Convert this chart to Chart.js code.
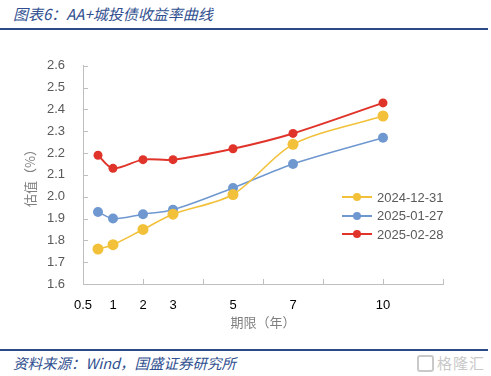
<!DOCTYPE html>
<html lang="zh-CN">
<head>
<meta charset="UTF-8">
<title>AA+城投债收益率曲线</title>
<script src="https://cdn.jsdelivr.net/npm/chart.js"></script>
<style>
    body {
        margin: 0;
        width: 491px;
        height: 376px;
        background: #fff;
        position: relative;
        overflow: hidden;
        font-family: "Noto Sans CJK SC", sans-serif;
    }
    .title {
        position: absolute;
        left: 13px;
        top: 3px;
        font-size: 15px;
        font-style: italic;
        color: #2f4f8f;
    }
    .rule {
        position: absolute;
        left: 0;
        width: 488px;
        height: 2px;
        background: #2c4a86;
    }
    .chart-box {
        position: absolute;
        left: 0;
        top: 40px;
        width: 491px;
        height: 300px;
    }
    .legend {
        position: absolute;
        left: 342px;
        top: 188px;
        font-family: "Liberation Sans", Arial, sans-serif;
        font-size: 13px;
        color: #595959;
    }
    .legend div {
        height: 18.5px;
        display: flex;
        align-items: center;
    }
    .legend .swatch {
        position: relative;
        width: 30px;
        height: 2px;
        margin-right: 5px;
    }
    .legend .swatch i {
        position: absolute;
        left: 11px;
        top: -3px;
        width: 8px;
        height: 8px;
        border-radius: 50%;
    }
    .source {
        position: absolute;
        left: 13px;
        top: 352px;
        font-size: 14.5px;
        font-style: italic;
        color: #2f4f8f;
    }
    .mark {
        position: absolute;
        right: 6px;
        top: 352px;
        font-size: 15px;
        color: #c9c9c9;
        letter-spacing: 1px;
    }
    .mark b {
        display: inline-block;
        width: 13px;
        height: 13px;
        border: 2px solid #c9c9c9;
        border-radius: 3px;
        vertical-align: -3px;
        margin-right: 3px;
    }
</style>
</head>
<body>
    <div class="title">图表6：AA+城投债收益率曲线</div>
    <div class="rule" style="top:28px"></div>

    <div class="chart-box"><canvas id="curveChart"></canvas></div>

    <div class="legend" id="legend"></div>

    <div class="rule" style="top:349px"></div>
    <div class="source">资料来源：Wind，国盛证券研究所</div>
    <div class="mark"><b></b>格隆汇</div>

<script>
    // 期限（年）
    const tenors = [0.5, 1, 2, 3, 5, 7, 10];
    const seriesNames = ['2024-12-31', '2025-01-27', '2025-02-28'];
    const yield20241231 = [1.76, 1.78, 1.85, 1.92, 2.01, 2.24, 2.37];
    const yield20250127 = [1.93, 1.90, 1.92, 1.94, 2.04, 2.15, 2.27];
    const yield20250228 = [2.19, 2.13, 2.17, 2.17, 2.22, 2.29, 2.43];
    // 横轴刻度文字（"0.5" 标在轴起点）
    const xTickValues = [0, 1, 2, 3, 5, 7, 10];
    const xTickLabels = ['0.5', '1', '2', '3', '5', '7', '10'];

    const colors = ['#f2c139', '#6f98d1', '#e0342b'];
    const radii = [5.5, 5, 4.5];
    const widths = [1.6, 1.6, 2];

    const toPoints = (vals) => tenors.map((t, i) => ({ x: t, y: vals[i] }));

    // 坐标轴内侧的小刻度
    const innerTicks = {
        id: 'innerTicks',
        beforeDatasetsDraw(chart) {
            const { ctx, chartArea, scales: { x, y } } = chart;
            ctx.save();
            ctx.strokeStyle = '#bfbfbf';
            ctx.lineWidth = 1;
            ctx.beginPath();
            for (let v = 0; v <= 12; v += 2) {
                const px = Math.round(x.getPixelForValue(v)) + 0.5;
                ctx.moveTo(px, chartArea.bottom);
                ctx.lineTo(px, chartArea.bottom - 5);
            }
            y.ticks.forEach((t) => {
                const py = Math.round(y.getPixelForValue(t.value)) + 0.5;
                ctx.moveTo(chartArea.left, py);
                ctx.lineTo(chartArea.left + 5, py);
            });
            ctx.stroke();
            ctx.restore();
        }
    };

    const datasets = [yield20241231, yield20250127, yield20250228].map((vals, i) => ({
        label: seriesNames[i],
        data: toPoints(vals),
        borderColor: colors[i],
        backgroundColor: colors[i],
        borderWidth: widths[i],
        pointRadius: radii[i],
        pointBorderWidth: 0,
        tension: 0.3
    }));

    new Chart(document.getElementById('curveChart'), {
        type: 'line',
        data: { datasets },
        options: {
            responsive: true,
            maintainAspectRatio: false,
            animation: false,
            layout: { padding: { top: 23, right: 48, left: 0, bottom: 0 } },
            plugins: { legend: { display: false }, tooltip: { enabled: false } },
            scales: {
                x: {
                    type: 'linear',
                    min: 0,
                    max: 12,
                    afterBuildTicks: (s) => { s.ticks = xTickValues.map((v) => ({ value: v })); },
                    afterFit: (s) => { s.height = 56; },
                    ticks: {
                        autoSkip: false,
                        maxRotation: 0,
                        padding: 14,
                        color: '#000',
                        font: { family: '"Liberation Sans", Arial', size: 13 },
                        callback: (v, i) => xTickLabels[i]
                    },
                    grid: { display: false, drawTicks: false },
                    border: { color: '#bfbfbf' },
                    title: {
                        display: true,
                        text: '期限（年）',
                        color: '#7f7f7f',
                        font: { family: '"Noto Sans CJK SC"', size: 13 },
                        padding: { top: 0, bottom: 10 }
                    }
                },
                y: {
                    min: 1.6,
                    max: 2.6,
                    afterFit: (s) => { s.width = 83; },
                    ticks: {
                        stepSize: 0.1,
                        padding: 18,
                        color: '#595959',
                        font: { family: '"Liberation Sans", Arial', size: 13 },
                        callback: (v) => v.toFixed(1)
                    },
                    grid: { display: false, drawTicks: false },
                    border: { color: '#bfbfbf' },
                    title: {
                        display: true,
                        text: '估值（%）',
                        color: '#7f7f7f',
                        font: { family: '"Noto Sans CJK SC"', size: 13 },
                        padding: { top: 22, bottom: 0 }
                    }
                }
            }
        },
        plugins: [innerTicks]
    });

    // 图例
    const legend = document.getElementById('legend');
    seriesNames.forEach((name, i) => {
        const row = document.createElement('div');
        row.innerHTML = '<span class="swatch" style="background:' + colors[i] + '"><i style="background:' + colors[i] + '"></i></span>' + name;
        legend.appendChild(row);
    });
</script>
</body>
</html>
